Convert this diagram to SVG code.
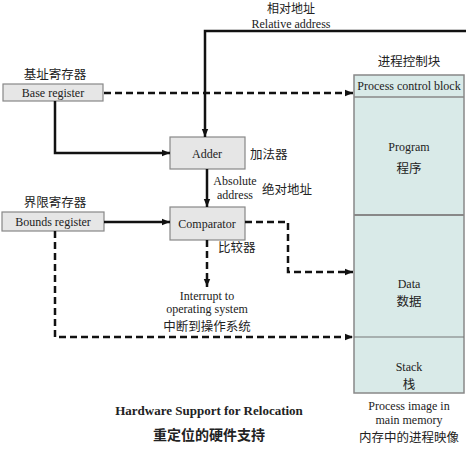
<svg xmlns="http://www.w3.org/2000/svg" width="468" height="449" viewBox="0 0 468 449">
<style>
.en{font-family:"Liberation Serif","Times New Roman",serif;font-size:12px;fill:#222}
.cn{font-family:"Noto Sans CJK SC","Noto Sans",sans-serif;font-size:12.5px;fill:#222}
.box{fill:#e6e6e6;stroke:#888;stroke-width:1.2}
.mem{fill:#d9eae8;stroke:#888;stroke-width:1.5}
.sol{fill:none;stroke:#111;stroke-width:2.5}
.dsh{fill:none;stroke:#111;stroke-width:2.5;stroke-dasharray:7,4}
.tb{font-family:"Liberation Serif","Times New Roman",serif;font-size:13px;font-weight:bold;fill:#222}
.tcn{font-family:"Noto Sans CJK SC","Noto Sans",sans-serif;font-size:14px;font-weight:bold;fill:#222}
</style>
<defs>
<marker id="ah" viewBox="0 0 10 10" refX="10" refY="5" markerWidth="10" markerHeight="8" markerUnits="userSpaceOnUse" orient="auto">
<path d="M0,1 L10,5 L0,9 Z" fill="#111"/>
</marker>
</defs>
<g id="memory">
<rect class="mem" x="354" y="75" width="110" height="318"/>
<line x1="354" y1="97" x2="464" y2="97" stroke="#888" stroke-width="1.5"/>
<line x1="354" y1="215" x2="464" y2="215" stroke="#888" stroke-width="2"/>
<line x1="354" y1="337" x2="464" y2="337" stroke="#777" stroke-width="1.2"/>
<text class="cn" x="409" y="66" text-anchor="middle">进程控制块</text>
<text class="en" x="409" y="90" text-anchor="middle">Process control block</text>
<text class="en" x="409" y="151" text-anchor="middle">Program</text>
<text class="cn" x="409" y="173" text-anchor="middle">程序</text>
<text class="en" x="409" y="288" text-anchor="middle">Data</text>
<text class="cn" x="409" y="306" text-anchor="middle">数据</text>
<text class="en" x="409" y="371" text-anchor="middle">Stack</text>
<text class="cn" x="409" y="389" text-anchor="middle">栈</text>
<text class="en" x="409" y="410" text-anchor="middle">Process image in</text>
<text class="en" x="409" y="424" text-anchor="middle">main memory</text>
<text class="cn" x="409" y="442" text-anchor="middle">内存中的进程映像</text>
</g>
<g id="base-register">
<rect class="box" x="3" y="84" width="100" height="17"/>
<text class="en" x="53" y="97" text-anchor="middle">Base register</text>
<text class="cn" x="55" y="79" text-anchor="middle">基址寄存器</text>
</g>
<g id="bounds-register">
<rect class="box" x="2" y="212" width="102" height="19"/>
<text class="en" x="53" y="226" text-anchor="middle">Bounds register</text>
<text class="cn" x="55" y="207" text-anchor="middle">界限寄存器</text>
</g>
<g id="adder">
<rect class="box" x="170" y="137" width="75" height="32"/>
<text class="en" x="207" y="158" text-anchor="middle">Adder</text>
<text class="cn" x="250" y="159">加法器</text>
</g>
<g id="comparator">
<rect class="box" x="170" y="207" width="75" height="33"/>
<text class="en" x="207" y="228" text-anchor="middle">Comparator</text>
<text class="cn" x="218" y="252">比较器</text>
</g>
<g id="labels">
<text class="cn" x="291" y="13" text-anchor="middle" style="font-size:12px">相对地址</text>
<text class="en" x="291" y="28" text-anchor="middle">Relative address</text>
<text class="en" x="235" y="185" text-anchor="middle">Absolute</text>
<text class="en" x="235" y="199" text-anchor="middle">address</text>
<text class="cn" x="262" y="194">绝对地址</text>
<text class="en" x="207" y="300" text-anchor="middle">Interrupt to</text>
<text class="en" x="207" y="313" text-anchor="middle">operating system</text>
<text class="cn" x="207" y="331" text-anchor="middle">中断到操作系统</text>
<text class="tb" x="209" y="415" text-anchor="middle">Hardware Support for Relocation</text>
<text class="tcn" x="209" y="440" text-anchor="middle">重定位的硬件支持</text>
</g>
<g id="connectors">
<path class="sol" d="M466,31 L205,31 L205,137" marker-end="url(#ah)"/>
<path class="dsh" d="M104,93 L353,93" marker-end="url(#ah)"/>
<path class="sol" d="M55,101 L55,153 L170,153" marker-end="url(#ah)"/>
<path class="sol" d="M207,169 L207,207" marker-end="url(#ah)"/>
<path class="sol" d="M104,222 L170,222" marker-end="url(#ah)"/>
<path class="dsh" d="M245,222 L288,222 L288,272 L353,272" marker-end="url(#ah)"/>
<path class="dsh" d="M207,240 L207,287" marker-end="url(#ah)"/>
<path class="dsh" d="M55,231 L55,337 L353,337" marker-end="url(#ah)"/>
</g>
</svg>
